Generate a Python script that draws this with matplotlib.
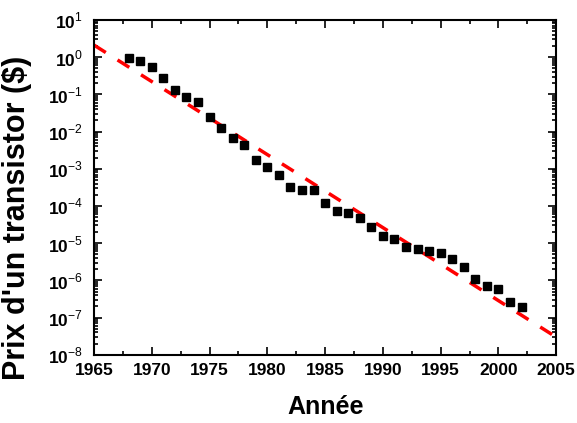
import numpy as np
import matplotlib
matplotlib.use("Agg")
import matplotlib.pyplot as plt
from matplotlib.ticker import MultipleLocator, LogLocator, FixedLocator, NullFormatter

plt.rcParams['font.family'] = ['Liberation Sans', 'DejaVu Sans']
plt.rcParams['mathtext.fontset'] = 'custom'
plt.rcParams['mathtext.bf'] = 'Liberation Sans:bold'
plt.rcParams['mathtext.rm'] = 'Liberation Sans'

# prix mesuré d'un transistor
annees = [1968, 1969, 1970, 1971, 1972, 1973, 1974, 1975, 1976, 1977, 1978, 1979,
          1980, 1981, 1982, 1983, 1984, 1985, 1986, 1987, 1988, 1989, 1990, 1991,
          1992, 1993, 1994, 1995, 1996, 1997, 1998, 1999, 2000, 2001, 2002]
prix = [0.95, 0.8, 0.55, 0.28, 0.13, 0.085, 0.063, 0.025, 0.0126, 0.0068, 0.0044, 0.0017,
        0.0011, 6.8e-4, 3.2e-4, 2.7e-4, 2.7e-4, 1.2e-4, 7.4e-5, 6.5e-5, 4.8e-5, 2.7e-5,
        1.6e-5, 1.3e-5, 7.9e-6, 6.9e-6, 6.2e-6, 5.5e-6, 3.8e-6, 2.3e-6, 1.1e-6, 7.1e-7,
        5.9e-7, 2.6e-7, 1.9e-7]

# droite de tendance (extrémités)
tendance_annees = [1965, 2005]
tendance_prix = [2.1, 3.0e-8]

fig = plt.figure(figsize=(5.77, 4.23), dpi=100)
ax = fig.add_axes([0.163, 0.161, 0.801, 0.792])

ax.plot(tendance_annees, tendance_prix, color='red', lw=2.5, dashes=(4, 4), zorder=2)
ax.plot(annees, prix, 's', color='black', ms=6.3, zorder=3)

ax.set_yscale('log')
ax.set_xlim(1965, 2005)
ax.set_ylim(1e-8, 10)

ax.xaxis.set_major_locator(MultipleLocator(5))
ax.xaxis.set_minor_locator(MultipleLocator(2.5))
ax.yaxis.set_major_locator(FixedLocator([10.0 ** k for k in range(-8, 2)]))
ax.yaxis.set_minor_locator(LogLocator(base=10, subs=np.arange(2, 10), numticks=20))
ax.yaxis.set_minor_formatter(NullFormatter())
ax.set_yticklabels([r'$\mathbf{10}^{\mathrm{%d}}$' % k for k in range(-8, 2)])

ax.tick_params(which='both', direction='in', top=True, right=True, width=1.2)
ax.tick_params(which='major', length=6, labelsize=12.5, pad=6)
ax.tick_params(axis='y', which='major', labelsize=12.5, pad=8)
ax.tick_params(which='minor', length=3)
for lab in ax.get_xticklabels():
    lab.set_fontweight('bold')
for s in ax.spines.values():
    s.set_linewidth(1.5)

ax.set_xlabel('Année', fontsize=18, fontweight='bold', labelpad=12)
ax.set_ylabel("Prix d'un transistor ($)", fontsize=22, fontweight='bold')
ax.yaxis.set_label_coords(-0.135, 0.41)

fig.savefig('out.png', dpi=100)
